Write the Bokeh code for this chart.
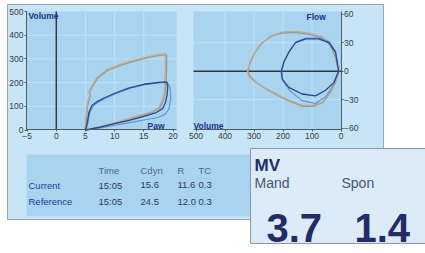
from bokeh.plotting import figure
from bokeh.models import Range1d, LinearAxis, FixedTicker
from bokeh.core.properties import value
from bokeh.embed import file_html
from bokeh.resources import INLINE

# ---------------- data ----------------
# Pressure-volume loop (Paw [cmH2O], Volume [ml])
ref_paw_a = [4.9, 5.1, 5.3, 5.6, 5.75, 5.6, 5.8, 6.2, 7.0, 8.7, 11.0, 13.3, 15.6, 17.3, 18.7,
             18.7, 18.6, 18.5, 18.2, 17.6, 16.2, 13.3, 10.4, 7.6, 5.3, 4.9]
ref_vol_a = [0, 60, 110, 135, 148, 160, 172, 190, 222, 255, 277, 294, 308, 317, 322,
             265, 200, 153, 124, 96, 75, 54, 33, 15, 2, 0]
ref_paw_b = [5.0, 5.2, 5.4, 5.7, 5.85, 5.7, 5.9, 6.3, 7.1, 8.8, 11.1, 13.4, 15.7, 17.4, 18.9,
             18.9, 18.8, 18.6, 18.3, 17.7, 16.3, 13.4, 10.5, 7.7, 5.4, 5.0]
ref_vol_b = [0, 58, 108, 133, 146, 158, 170, 188, 219, 252, 274, 291, 305, 314, 318,
             262, 198, 150, 121, 93, 72, 51, 31, 13, 1, 0]
cur_paw_a = [5.0, 5.3, 5.6, 6.1, 7.0, 8.2, 10.0, 12.5, 15.0, 17.5, 18.9, 19.1, 19.0, 18.7,
             18.2, 17.0, 15.0, 12.5, 10.0, 7.5, 5.0]
cur_vol_a = [0, 30, 75, 103, 120, 135, 155, 178, 193, 201, 203, 185, 150, 115,
             90, 72, 58, 41, 27, 12, 0]
cur_paw_b = [5.1, 5.4, 5.7, 6.3, 7.2, 8.4, 10.2, 12.7, 15.2, 17.6, 19.0, 19.5, 19.6, 19.3,
             18.6, 17.4, 15.2, 12.6, 10.1, 7.6, 5.1]
cur_vol_b = [0, 28, 70, 100, 118, 133, 153, 176, 191, 199, 201, 180, 130, 88,
             65, 53, 43, 31, 20, 9, 0]

# Flow-volume loop (Volume [ml], Flow [l/min])
fref_vol_a = [8, 19, 36, 65, 111, 157, 203, 237, 272, 295, 312, 323, 318, 295, 249, 191, 134, 99, 65, 36, 19, 8]
fref_flow_a = [0, 16, 29, 36, 40, 42, 41, 38, 30, 20, 10, 0, -5, -12, -20, -29, -36, -36, -33, -22, -12, 0]
fref_vol_b = [8, 20, 38, 67, 113, 159, 205, 240, 275, 298, 314, 320, 315, 292, 246, 189, 132, 97, 63, 35, 18, 8]
fref_flow_b = [0, 15, 28, 35, 39, 41, 40, 37, 29, 19, 9, 0, -5, -12, -21, -30, -37, -37, -33, -22, -11, 0]
fcur_vol_a = [8, 19, 42, 77, 122, 157, 180, 197, 206, 203, 180, 134, 88, 53, 25, 8]
fcur_flow_a = [0, 20, 30, 34, 34, 30, 20, 10, 0, -8, -17, -24, -26, -20, -12, 0]
fcur_vol_b = [8, 19, 40, 75, 120, 155, 178, 196, 204, 201, 175, 134, 88, 53, 25, 8]
fcur_flow_b = [0, 21, 31, 35, 35, 31, 21, 10, 0, -10, -21, -31, -34, -27, -14, 0]

pv_xticks = [-5, 0, 5, 10, 15, 20]
pv_yticks = [0, 100, 200, 300, 400, 500]
pv_xgrid = [5, 10, 15]
pv_ygrid = [100, 200, 300, 400]
fv_xticks = [500, 400, 300, 200, 100, 0]
fv_yticks = [-60, -30, 0, 30, 60]
fv_xgrid = [400, 300, 200, 100]
fv_ygrid = [-30, 30]

table_cols = ["Time", "Cdyn", "R", "TC"]
table_rows = ["Current", "Reference"]
table_current = ["15:05", "15.6", "11.6", "0.3"]
table_reference = ["15:05", "24.5", "12.0", "0.3"]

mv_title = "MV"
mv_labels = ["Mand", "Spon"]
mv_values = ["3.7", "1.4"]

# ---------------- layout (reference pixels) ----------------
W, H = 425, 253
PX0, PX1 = 0, W
PY0, PY1 = 0, H

def extra_range(d0, d1, p0, p1, a, b):
    k = (d1 - d0) / (p1 - p0)
    return Range1d(start=d0 + (a - p0) * k, end=d0 + (b - p0) * k)

def inv(d0, d1, p0, p1, px):
    return d0 + (px - p0) * (d1 - d0) / (p1 - p0)

# anchor pixels of the two graphs
PV_X = (-5, 20, 26.6, 172.5)
PV_Y = (0, 500, 129.5, 11.0)
FV_X = (0, 500, 340.5, 195.5)
FV_Y = (0, 60, 70.7, 13.7)
LF = (26, 176, 11, 129)       # left frame px: l, r, t, b
RF = (193, 341, 11, 129)

p = figure(width=W, height=H, x_range=Range1d(PX0, PX1), y_range=Range1d(PY1, PY0),
           output_backend="svg", toolbar_location=None,
           x_axis_location=None, y_axis_location=None, min_border=0,
           outline_line_color=None, background_fill_color="white",
           border_fill_color="white")
p.grid.grid_line_color = None

p.extra_x_ranges = {"pv": extra_range(*PV_X, PX0, PX1), "fv": extra_range(*FV_X, PX0, PX1)}
p.extra_y_ranges = {"pv": extra_range(*PV_Y, PY1, PY0), "fv": extra_range(*FV_Y, PY1, PY0)}

pv_l, pv_r = inv(*PV_X, LF[0]), inv(*PV_X, LF[1])
pv_t, pv_b = inv(*PV_Y, LF[2]), inv(*PV_Y, LF[3])
fv_l, fv_r = inv(*FV_X, RF[0]), inv(*FV_X, RF[1])
fv_t, fv_b = inv(*FV_Y, RF[2]), inv(*FV_Y, RF[3])

PANEL = "#c8e5f7"
FRAME = "#a8d4f0"
GRID = "#bfe1f6"
NAVY = "#26318a"

# background panel
p.quad(left=[7], right=[383], top=[4], bottom=[219], fill_color=PANEL,
       line_color="#9aa6b0", line_width=1)
# graph frames
p.quad(left=[LF[0], RF[0]], right=[LF[1], RF[1]], top=[LF[2], RF[2]], bottom=[LF[3], RF[3]],
       fill_color=FRAME, line_color=None)
# table background
p.quad(left=[26], right=[300], top=[154], bottom=[216], fill_color=FRAME, line_color=None)

# grids
p.segment(x0=pv_xgrid, x1=pv_xgrid, y0=[pv_b] * 3, y1=[pv_t] * 3, line_color=GRID,
          line_width=1, x_range_name="pv", y_range_name="pv")
p.segment(x0=[pv_l] * 4, x1=[pv_r] * 4, y0=pv_ygrid, y1=pv_ygrid, line_color=GRID,
          line_width=1, x_range_name="pv", y_range_name="pv")
p.segment(x0=fv_xgrid, x1=fv_xgrid, y0=[fv_b] * 4, y1=[fv_t] * 4, line_color=GRID,
          line_width=1, x_range_name="fv", y_range_name="fv")
p.segment(x0=[fv_l] * 2, x1=[fv_r] * 2, y0=fv_ygrid, y1=fv_ygrid, line_color=GRID,
          line_width=1, x_range_name="fv", y_range_name="fv")

# zero lines
p.segment(x0=[0], x1=[0], y0=[pv_b], y1=[pv_t], line_color="#2c3642", line_width=1.4,
          x_range_name="pv", y_range_name="pv")
p.segment(x0=[fv_l], x1=[0], y0=[0], y1=[0], line_color="#2c3642", line_width=1.4,
          x_range_name="fv", y_range_name="fv")

# loops
TAN, GRAY, DBLUE, LBLUE = "#c9a77c", "#8d98a3", "#2a468f", "#5b93d2"
p.line(ref_paw_b, ref_vol_b, line_color=GRAY, line_width=1.3, x_range_name="pv", y_range_name="pv")
p.line(ref_paw_a, ref_vol_a, line_color=TAN, line_width=1.3, x_range_name="pv", y_range_name="pv")
p.line(cur_paw_b, cur_vol_b, line_color=LBLUE, line_width=1.1, x_range_name="pv", y_range_name="pv")
p.line(cur_paw_a, cur_vol_a, line_color=DBLUE, line_width=1.3, x_range_name="pv", y_range_name="pv")
p.line(fref_vol_b, fref_flow_b, line_color=GRAY, line_width=1.3, x_range_name="fv", y_range_name="fv")
p.line(fref_vol_a, fref_flow_a, line_color=TAN, line_width=1.3, x_range_name="fv", y_range_name="fv")
p.line(fcur_vol_b, fcur_flow_b, line_color=LBLUE, line_width=1.1, x_range_name="fv", y_range_name="fv")
p.line(fcur_vol_a, fcur_flow_a, line_color=DBLUE, line_width=1.3, x_range_name="fv", y_range_name="fv")

# axes
def style(ax):
    ax.axis_line_color = "#4d5a66"
    ax.axis_line_width = 1
    ax.major_tick_line_color = "#4d5a66"
    ax.major_tick_out = 2
    ax.major_tick_in = 0
    ax.minor_tick_line_color = None
    ax.major_label_text_font = "Liberation Sans"
    ax.major_label_text_font_size = "8.5px"
    ax.major_label_text_color = "#3c3c3c"
    ax.major_label_standoff = 1
    return ax

p.add_layout(style(LinearAxis(x_range_name="pv", y_range_name="pv", fixed_location=pv_b,
                              bounds=(pv_l, pv_r), ticker=FixedTicker(ticks=pv_xticks))), "below")
p.add_layout(style(LinearAxis(x_range_name="pv", y_range_name="pv", fixed_location=pv_l,
                              bounds=(0, 500), ticker=FixedTicker(ticks=pv_yticks))), "left")
p.add_layout(style(LinearAxis(x_range_name="fv", y_range_name="fv", fixed_location=fv_b,
                              bounds=(fv_r, fv_l), ticker=FixedTicker(ticks=fv_xticks))), "below")
p.add_layout(style(LinearAxis(x_range_name="fv", y_range_name="fv", fixed_location=0,
                              bounds=(fv_b, fv_t), ticker=FixedTicker(ticks=fv_yticks))), "right")

# graph captions
FONT = value("Liberation Sans")
p.text(x=[28, 147, 306, 193], y=[15, 125.5, 16, 125], text=["Volume", "Paw", "Flow", "Volume"],
       text_font=FONT, text_font_size="8.5px", text_font_style="bold", text_color=NAVY,
       text_baseline="middle", text_align="left")

# table
col_x = [98, 140, 177, 198]
p.text(x=col_x, y=[170] * 4, text=table_cols, text_font=FONT, text_font_size="9.5px",
       text_color="#4f6394", text_baseline="middle")
p.text(x=[28, 28], y=[184.5, 201], text=table_rows, text_font=FONT, text_font_size="9.5px",
       text_color="#29399a", text_baseline="middle")
p.text(x=col_x, y=[184.5] * 4, text=table_current, text_font=FONT, text_font_size="9.5px",
       text_color="#303a5e", text_baseline="middle")
p.text(x=col_x, y=[201] * 4, text=table_reference, text_font=FONT, text_font_size="9.5px",
       text_color="#303a5e", text_baseline="middle")

# MV box
p.quad(left=[250], right=[440], top=[148], bottom=[243], fill_color="#dcebf8",
       line_color="#8c99a4", line_width=1)
p.text(x=[254], y=[164.5], text=[mv_title], text_font=FONT, text_font_size="17px",
       text_font_style="bold", text_color="#222b6c", text_baseline="middle")
p.text(x=[254, 341], y=[182, 182], text=mv_labels, text_font=FONT, text_font_size="14px",
       text_color="#4b5572", text_baseline="middle")
p.text(x=[266, 354], y=[227, 227], text=mv_values, text_font=FONT, text_font_size="40px",
       text_font_style="bold", text_color="#222b6c", text_baseline="middle")

open("out.html", "w").write(file_html(p, INLINE))
